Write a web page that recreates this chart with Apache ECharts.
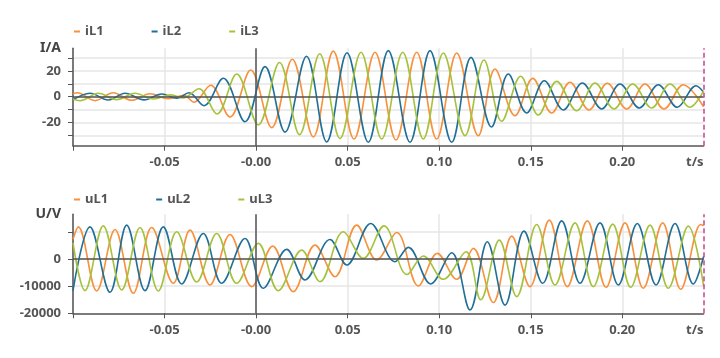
<!DOCTYPE html>
<html><head><meta charset="utf-8">
<script src="https://cdn.jsdelivr.net/npm/echarts@6/dist/echarts.min.js"></script>
<style>html,body{margin:0;padding:0;background:#fff}#c{width:720px;height:358px}</style>
</head><body><div id="c"></div>
<script>
// ---- axis settings / tick labels ----
const T_MIN = -0.1, T_MAX = 0.2444;
const xTicks = [-0.1, -0.05, 0, 0.05, 0.1, 0.15, 0.2];
const xLabels = [-0.05, 0, 0.05, 0.1, 0.15, 0.2];
const iTicks = [-30, -20, -10, 0, 10, 20, 30];
const iLabels = [-20, 0, 20];
const uTicks = [-20000, -10000, 0, 10000];
const uLabels = [-20000, -10000, 0];
const I_MIN = -38, I_MAX = 37.5;
const U_MIN = -20000, U_MAX = 16500;

// ---- currents [t (s), A] : extrema ----
const iL1 = [[-0.1,2.3],[-0.09765,3.1],[-0.08798,-3.1],[-0.07799,3.1],[-0.06794,-2.8],[-0.05795,2.3],[-0.04795,-1.5],[-0.03938,1.0],[-0.03392,-4.3],[-0.02480,8.8],[-0.01426,-15.8],[-0.00295,20.7],[0.00852,-24.0],[0.01977,29.0],[0.03124,-31.2],[0.04216,35.3],[0.05347,-32.8],[0.06494,34.4],[0.07641,-33.6],[0.08771,34.4],[0.09864,-32.8],[0.10956,33.9],[0.12135,-30.2],[0.13048,21.4],[0.14140,-14.7],[0.15107,14.2],[0.16144,-12.6],[0.17144,11.2],[0.18181,-10.3],[0.19181,10.4],[0.20240,-9.5],[0.21240,9.8],[0.22277,-9.5],[0.23332,9.3],[0.2444,-7.8]];
const iL2 = [[-0.1,-2.4],[-0.09072,2.7],[-0.08072,-2.6],[-0.0716,2.7],[-0.06122,-2.5],[-0.05156,2.1],[-0.0432,-1.2],[-0.03665,3.1],[-0.02845,-7.0],[-0.01791,14.3],[-0.00606,-19.4],[0.00486,23.3],[0.01578,-27.5],[0.02753,31.3],[0.03856,-35.1],[0.04965,34.0],[0.06128,-35.3],[0.07220,35.7],[0.08405,-35.3],[0.09498,35.7],[0.10683,-35.3],[0.11737,30.5],[0.12856,-23.5],[0.13774,17.6],[0.14779,-12.6],[0.15740,12.4],[0.16778,-10.3],[0.17815,10.6],[0.18875,-9.5],[0.19874,9.8],[0.20929,-8.8],[0.21966,9.3],[0.23004,-8.2],[0.24025,8.5],[0.2444,3.5]];
const iL3 = [[-0.1,-2.0],[-0.09618,-3.1],[-0.08618,2.6],[-0.07613,-2.3],[-0.06614,2.6],[-0.05614,-1.8],[-0.04648,1.4],[-0.03992,-0.9],[-0.03119,6.2],[-0.02135,-13.4],[-0.01060,17.6],[0.00120,-21.9],[0.01278,26.5],[0.02370,-29.4],[0.03474,33.3],[0.04582,-32.5],[0.05729,34.4],[0.06860,-32.8],[0.08007,34.4],[0.09132,-32.8],[0.10224,33.9],[0.11409,-30.2],[0.12447,28.4],[0.13413,-19.1],[0.14451,15.8],[0.15412,-14.2],[0.16417,11.9],[0.17510,-10.9],[0.18509,10.6],[0.19547,-9.5],[0.20568,9.8],[0.21606,-8.8],[0.22605,9.8],[0.23697,-8.2],[0.2444,4.5]];

// ---- voltages [t (s), V] ----
const uL1 = [[-0.1,7300],[-0.09711,11880],[-0.08706,-11760],[-0.07706,10900],[-0.06707,-12620],[-0.05702,11650],[-0.04522,-8940],[-0.0361,10660],[-0.02518,-9560],[-0.01426,9070],[-0.00240,-10170],[0.00907,4780],[0.02032,-12010],[0.03217,5150],[0.04309,-6500],[0.05494,12500],[0.06587,-370],[0.07679,9800],[0.08859,-9930],[0.09896,2080],[0.10956,-7470],[0.11862,3920],[0.12955,-16000],[0.13960,8450],[0.14959,-10170],[0.16013,14340],[0.16996,-10170],[0.18089,14090],[0.19110,-10420],[0.20148,13350],[0.21147,-10780],[0.22206,13350],[0.23190,-11150],[0.24282,12750],[0.2444,12300]];
const uL2 = [[-0.1,-11600],[-0.09072,11880],[-0.07979,-12250],[-0.07067,12500],[-0.06068,-11640],[-0.05068,11880],[-0.04063,-9190],[-0.02884,9440],[-0.01879,-8940],[-0.00606,7600],[0.00393,-10780],[0.01671,3550],[0.02671,-7720],[0.04036,7230],[0.04948,-2200],[0.06259,13110],[0.07586,-980],[0.08312,4290],[0.09536,-9190],[0.10683,2330],[0.11682,-18750],[0.12627,6370],[0.13594,-17000],[0.14631,10290],[0.15653,-8940],[0.16690,14090],[0.17690,-8940],[0.18782,13350],[0.19782,-9560],[0.20819,13110],[0.21841,-9560],[0.22878,13110],[0.23878,-9190],[0.2444,1000]];
const uL3 = [[-0.1,6000],[-0.09345,-11640],[-0.08345,12250],[-0.0734,-11400],[-0.06341,11650],[-0.05341,-11760],[-0.04336,10050],[-0.03244,-8450],[-0.02152,9440],[-0.0106,-8940],[0.0012,5770],[0.01212,-11640],[0.0249,3300],[0.0349,-8330],[0.04762,10050],[0.05855,250],[0.06985,12250],[0.08241,-5700],[0.09132,1100],[0.10224,-7470],[0.11464,2700],[0.12267,-15000],[0.13282,6980],[0.14233,-13850],[0.15325,12750],[0.16324,-9560],[0.17417,13350],[0.18416,-10170],[0.19476,12870],[0.20459,-10420],[0.21513,12500],[0.22512,-10780],[0.23605,12130],[0.2444,-9900]];

const COLORS = ['#f7913d', '#1f6f97', '#a6c23d'];
const FONT = 'Noto Sans';
const TXT = '#555';
const chart = echarts.init(document.getElementById('c'), null, {renderer: 'canvas'});

function xAxis(grid) {
  return {
    type: 'value', gridIndex: grid, min: T_MIN, max: T_MAX,
    axisLine: {onZero: false, lineStyle: {color: '#555', width: 1.5}},
    axisTick: {show: true, customValues: xTicks, length: 5, lineStyle: {color: '#555'}},
    axisLabel: {customValues: xLabels, color: TXT, fontSize: 13, fontWeight: 'bold', fontFamily: FONT, margin: 10,
      formatter: v => Math.abs(v) < 1e-9 ? '-0.00' : v.toFixed(2)},
    splitLine: {show: true, lineStyle: {color: '#e6e6e6', width: 1.5}},
    name: 't/s', nameLocation: 'end', nameGap: 0,
    nameTextStyle: {align: 'right', verticalAlign: 'top', padding: [10, 0, 0, 0], color: TXT, fontSize: 13, fontWeight: 'bold', fontFamily: FONT}
  };
}
function yAxis(grid, name, min, max, ticks, labels) {
  return {
    type: 'value', gridIndex: grid, min: min, max: max, name: name, nameLocation: 'end', nameGap: 0,
    nameTextStyle: {align: 'right', verticalAlign: 'middle', padding: [0, 12, 0, 0], color: '#444', fontSize: 14, fontWeight: 'bold', fontFamily: FONT},
    axisLine: {show: true, onZero: false, lineStyle: {color: '#555', width: 1.5}},
    axisTick: {show: true, customValues: ticks, length: 5, lineStyle: {color: '#555'}},
    axisLabel: {customValues: labels, color: TXT, fontSize: 13, fontWeight: 'bold', fontFamily: FONT, margin: 12,
      formatter: v => String(v)},
    splitLine: {show: true, lineStyle: {color: '#e6e6e6', width: 1.5}}
  };
}
function guide(xi, yi) {
  return {
    type: 'line', name: 'guide' + xi, xAxisIndex: xi, yAxisIndex: yi, data: [], silent: true, z: 1,
    markLine: {
      silent: true, symbol: 'none', animation: false, precision: 6, label: {show: false},
      lineStyle: {color: '#555', width: 1.5, type: 'solid'},
      data: [{xAxis: 0}, {yAxis: 0},
        {xAxis: T_MAX, lineStyle: {color: '#d1408a', width: 1.5, type: [5, 3]}}]
    }
  };
}
function wave(name, data, idx, xi) {
  return {
    type: 'line', name: name, data: data, xAxisIndex: xi, yAxisIndex: xi,
    showSymbol: false, symbol: 'none', smooth: 0.36, z: 3,
    lineStyle: {color: COLORS[idx], width: 1.6}, itemStyle: {color: COLORS[idx]}
  };
}
function legend(names, top) {
  return {
    data: names, left: 69, top: top, itemGap: 48, itemWidth: 6, itemHeight: 2, icon: 'rect',
    selectedMode: false, textStyle: {color: TXT, fontSize: 13, fontWeight: 'bold', fontFamily: FONT}
  };
}

chart.setOption({
  animation: false,
  backgroundColor: '#fff',
  legend: [legend(['iL1', 'iL2', 'iL3'], 20), legend(['uL1', 'uL2', 'uL3'], 188)],
  grid: [
    {left: 73, right: 16.4, top: 48.3, height: 97.4},
    {left: 73, right: 16.4, top: 214.3, height: 99}
  ],
  xAxis: [xAxis(0), xAxis(1)],
  yAxis: [
    yAxis(0, 'I/A', I_MIN, I_MAX, iTicks, iLabels),
    yAxis(1, 'U/V', U_MIN, U_MAX, uTicks, uLabels)
  ],
  series: [
    guide(0, 0), guide(1, 1),
    wave('iL1', iL1, 0, 0), wave('iL2', iL2, 1, 0), wave('iL3', iL3, 2, 0),
    wave('uL1', uL1, 0, 1), wave('uL2', uL2, 1, 1), wave('uL3', uL3, 2, 1)
  ]
});
</script></body></html>
